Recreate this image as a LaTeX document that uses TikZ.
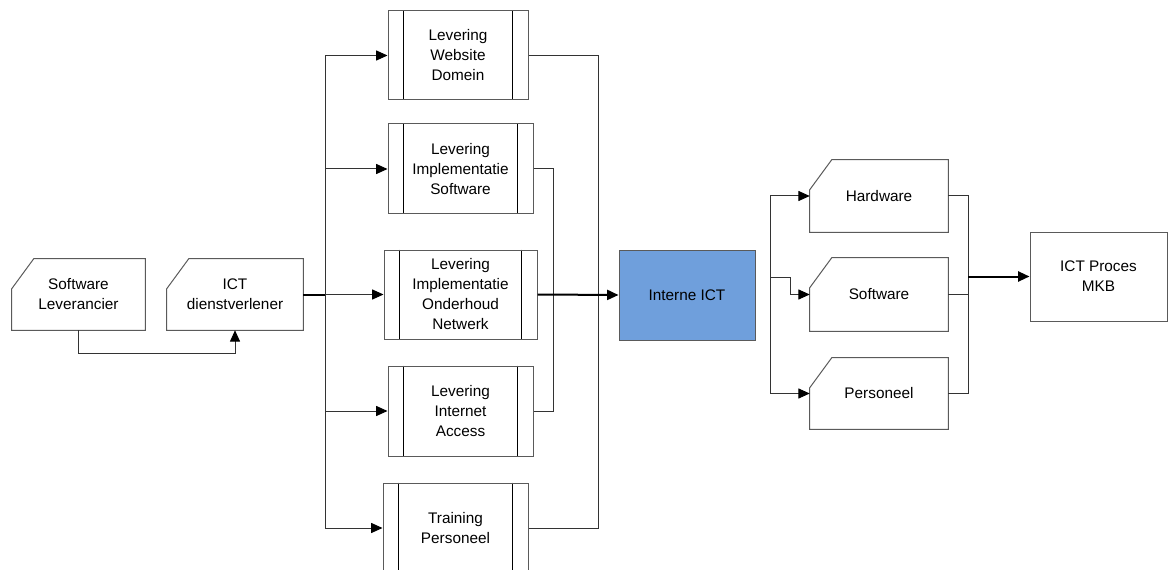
\documentclass[tikz,border=0pt]{standalone}
\usepackage{fontspec}
\setmainfont{Liberation Sans}
\usetikzlibrary{arrows.meta}
\definecolor{bordc}{RGB}{90,90,90}
\definecolor{icblue}{RGB}{111,159,220}
\tikzset{
  base/.style={inner sep=0pt, align=center, font=\fontsize{11.5}{15}\selectfont},
  subproc/.style={base, draw=bordc, line width=0.75pt,
    append after command={\pgfextra{\let\mynd\tikzlastnode
      \draw[line width=0.75pt, black] ([xshift=12pt]\mynd.north west) -- ([xshift=12pt]\mynd.south west);
      \draw[line width=0.75pt, black] ([xshift=-12pt]\mynd.north east) -- ([xshift=-12pt]\mynd.south east);}}},
  manin/.style={base,
    append after command={\pgfextra{\let\mynd\tikzlastnode
      \draw[line width=0.75pt, bordc] (\mynd.south west) -- ([yshift=-22.5pt]\mynd.north west)
        -- ([xshift=16.5pt]\mynd.north west) -- (\mynd.north east) -- (\mynd.south east) -- cycle;}}},
  conn/.style={line width=0.75pt, black!80},
  thickconn/.style={line width=1.5pt, black},
  arr/.style={-{Triangle[length=8.5pt,width=7.5pt,color=black]}},
}
\begin{document}
\begin{tikzpicture}[x=0.75pt,y=-0.75pt]
\useasboundingbox (0,0) rectangle (1169,570);
\clip (0,0) rectangle (1169,570);
% left manual inputs
\node[manin, minimum width=133*0.75pt, minimum height=71*0.75pt] (sw) at (78.5,294.5) {Software\\Leverancier};
\node[manin, minimum width=136*0.75pt, minimum height=71*0.75pt] (ict) at (235,294.5) {ICT\\dienstverlener};
% subprocesses
\node[subproc, minimum width=140*0.75pt, minimum height=89*0.75pt] (b1) at (458,55.5) {Levering\\Website\\Domein};
\node[subproc, minimum width=145*0.75pt, minimum height=90*0.75pt] (b2) at (460.5,169) {Levering\\Implementatie\\Software};
\node[subproc, minimum width=153*0.75pt, minimum height=89*0.75pt] (b3) at (460.5,294.5) {Levering\\Implementatie\\Onderhoud\\Netwerk};
\node[subproc, minimum width=145*0.75pt, minimum height=90*0.75pt] (b4) at (460.5,411) {Levering\\Internet\\Access};
\node[subproc, minimum width=145*0.75pt, minimum height=90*0.75pt] (b5) at (455.5,528) {Training\\Personeel};
% Interne ICT
\node[base, draw=bordc, line width=0.75pt, fill=icblue, minimum width=136*0.75pt, minimum height=90*0.75pt] (ii) at (687,295) {Interne ICT};
% right manual inputs
\node[manin, minimum width=138*0.75pt, minimum height=72*0.75pt] (hw) at (879,196) {Hardware};
\node[manin, minimum width=138*0.75pt, minimum height=73*0.75pt] (sf) at (879,294.5) {Software};
\node[manin, minimum width=138*0.75pt, minimum height=71*0.75pt] (ps) at (879,393.5) {Personeel};
% ICT Proces MKB
\node[base, draw=bordc, line width=0.75pt, minimum width=137*0.75pt, minimum height=89*0.75pt] (mkb) at (1098.5,276.5) {ICT Proces\\MKB};
% connectors left
\draw[conn,arr] (sw.south) -- ++(0,23) -| (ict.south);
\coordinate (tL) at (325,294.5);
\draw[thickconn] (ict.east) -- (tL);
\draw[conn,arr] (tL) |- (b1.west);
\draw[conn,arr] (tL) |- (b2.west);
\draw[conn,arr] (tL) -- (b3.west);
\draw[conn,arr] (tL) |- (b4.west);
\draw[conn,arr] (tL) |- (b5.west);
\draw[conn] (b1.east) -- ++(70,0) |- (b5.east);
\draw[conn] (b2.east) -- ++(20,0) |- (b4.east);
\draw[thickconn,arr] (b3.east) -- (ii.west);
% connectors right
\coordinate (tR) at (770,277);
\draw[conn,arr] (tR) |- (hw.west);
\draw[conn,arr] (tR) |- (ps.west);
\draw[conn,arr] (tR) -- ++(20,0) |- (sf.west);
\coordinate (tR2) at (968,276.5);
\draw[conn] (hw.east) -- ++(20,0) |- (ps.east);
\draw[conn] (sf.east) -- ++(20,0);
\draw[thickconn,arr] (tR2) -- (mkb.west);
\end{tikzpicture}
\end{document}
